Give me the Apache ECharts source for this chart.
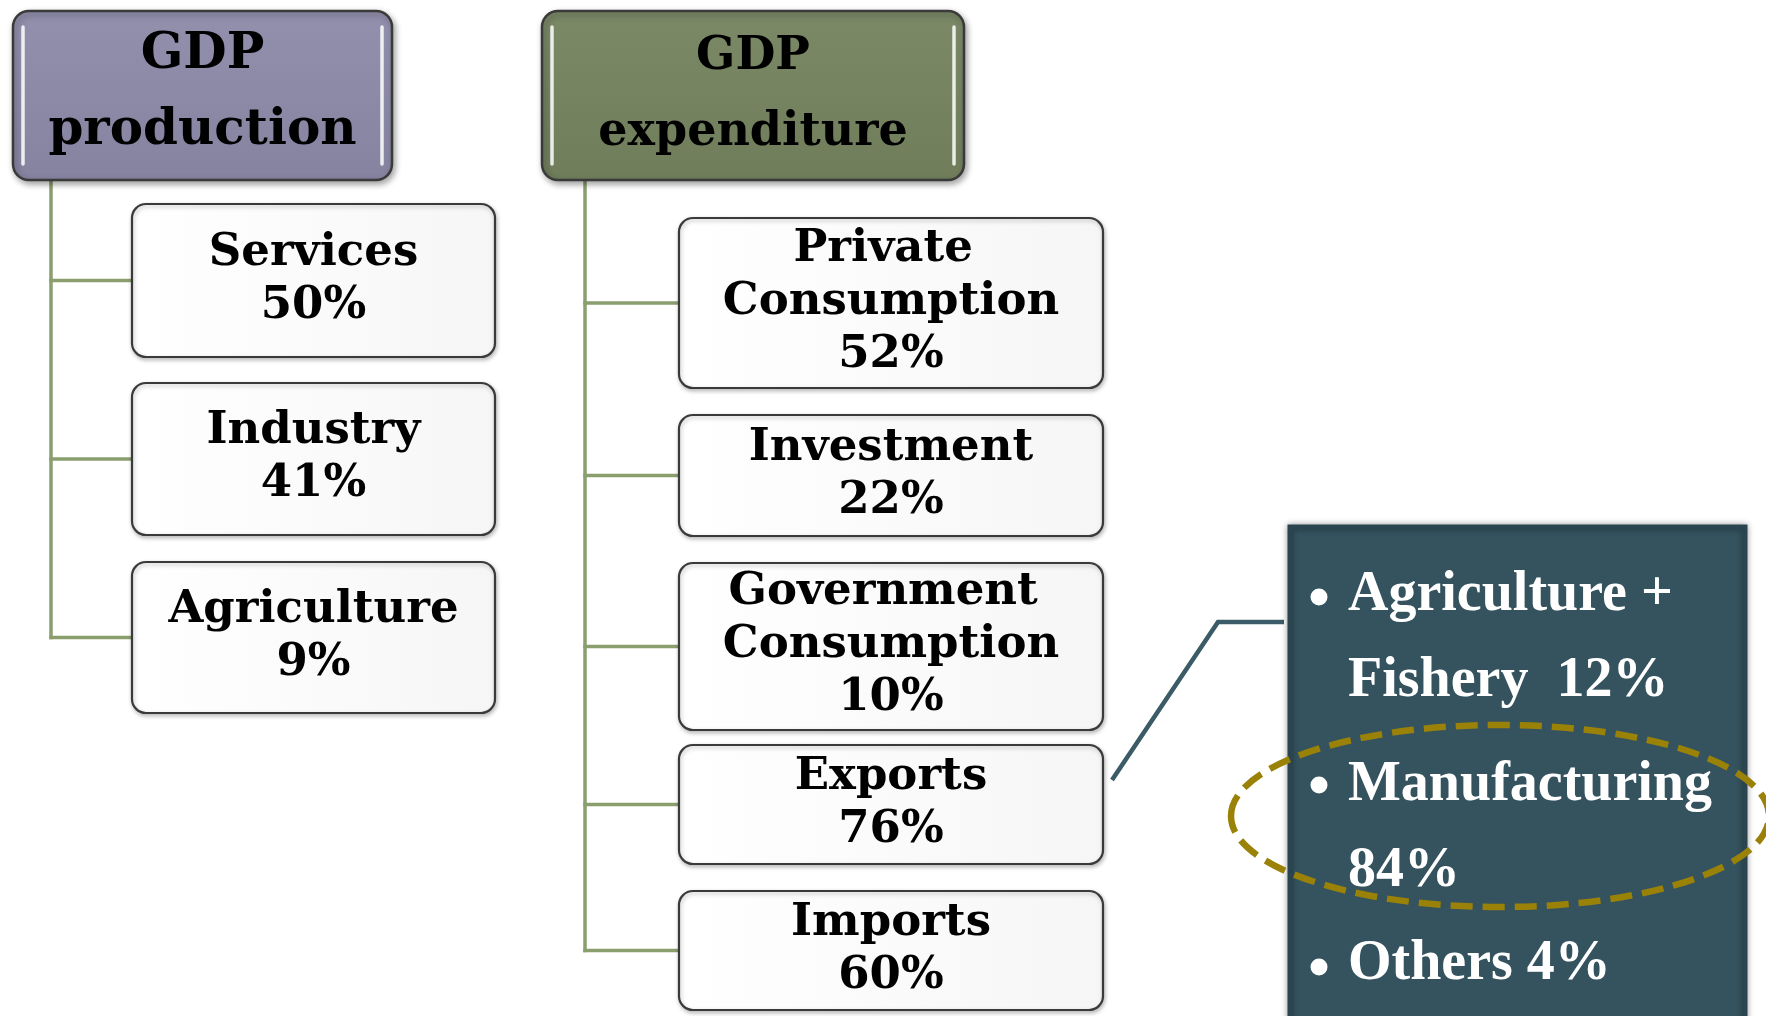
<!DOCTYPE html>
<html>
<head>
<meta charset="utf-8">
<script src="https://cdn.jsdelivr.net/npm/echarts@6/dist/echarts.min.js"></script>
<style>
  html, body { margin: 0; padding: 0; background: #ffffff; }
  #chart { width: 1766px; height: 1016px; }
</style>
</head>
<body>
<div id="chart"></div>
<script>
// Diagram data
const groupTitles = ['GDP\nproduction', 'GDP\nexpenditure'];
const productionSectors = ['Services', 'Industry', 'Agriculture'];
const productionShares = [50, 41, 9];
const expenditureItems = ['Private Consumption', 'Investment', 'Government Consumption', 'Exports', 'Imports'];
const expenditureShares = [52, 22, 10, 76, 60];
const exportSectors = ['Agriculture + Fishery', 'Manufacturing', 'Others'];
const exportShares = [12, 84, 4];
const highlightedExport = 'Manufacturing';

// Layout, in page pixels (used as axis units)
const headerBoxes = [[13, 11, 392, 180], [542, 11, 964, 180]];
const headerFills = [['#9390ae', '#8683a1'], ['#7b8967', '#6f7d5b']];
const headerFonts = ['bold 50px "DejaVu Serif"', 'bold 46px "DejaVu Serif"'];
const headerTextY = [93, 95];
const productionColumn = { trunkX: 51, x0: 132, x1: 495, rows: [[204, 357], [383, 535], [562, 713]] };
const expenditureColumn = { trunkX: 585, x0: 679, x1: 1103, rows: [[218, 388], [415, 536], [563, 730], [745, 864], [891, 1010]] };
const exportPanel = { box: [1290, 527, 1745, 1046], bulletX: 1319, bulletY: [597, 785, 967], textX: 1348, textTops: [553, 743, 922], textWidth: 400 };
const calloutPath = [[1112, 780], [1218, 622], [1284, 622]];
const highlightEllipse = { cx: 1500, cy: 816, rx: 269, ry: 91 };

const boxFont = 'bold 45px "DejaVu Serif"';
const panelFont = 'bold 56px "Liberation Serif"';
const connectorStyle = { stroke: '#8a9e6e', lineWidth: 3.5, lineCap: 'square' };

function boxRect(api, b) {
    const a = api.coord([b[0], b[1]]);
    const c = api.coord([b[2], b[3]]);
    return { x: a[0], y: a[1], width: c[0] - a[0], height: c[1] - a[1] };
}

function centeredText(text, x, y, font, lineHeight, width) {
    return {
        type: 'text',
        style: {
            text: text, x: x, y: y, font: font, fill: '#000000',
            align: 'center', verticalAlign: 'middle',
            textAlign: 'center', textVerticalAlign: 'middle',
            lineHeight: lineHeight, width: width, overflow: 'break'
        }
    };
}

// Tree connectors for a column
function renderConnectors(col, header) {
    return function (params, api) {
        const i = params.dataIndex;
        const row = col.rows[i];
        const midY = (row[0] + row[1]) / 2;
        const p0 = api.coord([col.trunkX, midY]);
        const p1 = api.coord([col.x0, midY]);
        const children = [{ type: 'line', shape: { x1: p0[0], y1: p0[1], x2: p1[0], y2: p1[1] }, style: connectorStyle }];
        if (i === col.rows.length - 1) {
            const top = api.coord([col.trunkX, header[3]]);
            children.push({ type: 'line', shape: { x1: top[0], y1: top[1], x2: p0[0], y2: p0[1] }, style: connectorStyle });
        }
        return { type: 'group', children: children };
    };
}

// Coloured header boxes
function renderHeader(params, api) {
    const i = params.dataIndex;
    const r = boxRect(api, headerBoxes[i]);
    const fill = new echarts.graphic.LinearGradient(0, 0, 0, 1, [
        { offset: 0, color: headerFills[i][0] },
        { offset: 1, color: headerFills[i][1] }
    ]);
    const gloss = { stroke: 'rgba(255,255,255,0.85)', lineWidth: 3.5, lineCap: 'round' };
    const ty = api.coord([0, headerTextY[i]])[1];
    return {
        type: 'group',
        children: [
            {
                type: 'rect',
                shape: { x: r.x, y: r.y, width: r.width, height: r.height, r: 16 },
                style: { fill: fill, stroke: '#3a3a3a', lineWidth: 2.5, shadowBlur: 6, shadowOffsetX: 2, shadowOffsetY: 3, shadowColor: 'rgba(0,0,0,0.35)' }
            },
            { type: 'line', shape: { x1: r.x + 10, y1: r.y + 16, x2: r.x + 10, y2: r.y + r.height - 16 }, style: gloss },
            { type: 'line', shape: { x1: r.x + r.width - 10, y1: r.y + 16, x2: r.x + r.width - 10, y2: r.y + r.height - 16 }, style: gloss },
            centeredText(groupTitles[i], r.x + r.width / 2, ty, headerFonts[i], 76)
        ]
    };
}

// White item boxes
function renderBoxes(col, names, shares) {
    return function (params, api) {
        const i = params.dataIndex;
        const row = col.rows[i];
        const r = boxRect(api, [col.x0, row[0], col.x1, row[1]]);
        const fill = new echarts.graphic.LinearGradient(0, 0, 1, 0, [
            { offset: 0, color: '#ffffff' },
            { offset: 1, color: '#f6f6f6' }
        ]);
        return {
            type: 'group',
            children: [
                {
                    type: 'rect',
                    shape: { x: r.x, y: r.y, width: r.width, height: r.height, r: 14 },
                    style: { fill: fill, stroke: '#3a3a3a', lineWidth: 2.2, shadowBlur: 4, shadowOffsetX: 1, shadowOffsetY: 2, shadowColor: 'rgba(0,0,0,0.25)' }
                },
                centeredText(names[i] + '\n' + shares[i] + '%', r.x + r.width / 2, r.y + r.height / 2 - 1, boxFont, 53, r.width - 30)
            ]
        };
    };
}

// Dark panel with the export breakdown
function renderPanel(params, api) {
    const r = boxRect(api, exportPanel.box);
    const pts = calloutPath.map(p => api.coord(p));
    return {
        type: 'group',
        children: [
            { type: 'polyline', shape: { points: pts }, style: { stroke: '#3b5b67', lineWidth: 4.5, fill: null } },
            {
                type: 'rect',
                shape: { x: r.x, y: r.y, width: r.width, height: r.height },
                style: { fill: '#34535e', stroke: '#2a4550', lineWidth: 5, shadowBlur: 6, shadowColor: 'rgba(0,0,0,0.35)' }
            }
        ]
    };
}

function renderExportItem(params, api) {
    const i = params.dataIndex;
    const b = api.coord([exportPanel.bulletX, exportPanel.bulletY[i]]);
    const t = api.coord([exportPanel.textX, exportPanel.textTops[i]]);
    const gap = i === 0 ? '  ' : ' ';
    return {
        type: 'group',
        children: [
            { type: 'circle', shape: { cx: b[0], cy: b[1], r: 8.5 }, style: { fill: '#ffffff' } },
            {
                type: 'text',
                style: {
                    text: exportSectors[i] + gap + exportShares[i] + '%',
                    x: t[0], y: t[1], font: panelFont, fill: '#ffffff',
                    align: 'left', verticalAlign: 'top', textAlign: 'left', textVerticalAlign: 'top',
                    lineHeight: 86, width: exportPanel.textWidth, overflow: 'break'
                }
            }
        ]
    };
}

function renderHighlight(params, api) {
    const c = api.coord([highlightEllipse.cx, highlightEllipse.cy]);
    return {
        type: 'ellipse',
        shape: { cx: c[0], cy: c[1], rx: highlightEllipse.rx, ry: highlightEllipse.ry },
        style: { fill: null, stroke: '#9a8108', lineWidth: 6.5, lineDash: [22, 10] }
    };
}

const chart = echarts.init(document.getElementById('chart'));
chart.setOption({
    animation: false,
    backgroundColor: '#ffffff',
    grid: { left: 0, right: 0, top: 0, bottom: 0 },
    xAxis: { type: 'value', min: 0, max: 1766, show: false },
    yAxis: { type: 'value', min: 0, max: 1016, inverse: true, show: false },
    series: [
        { type: 'custom', name: 'production links', renderItem: renderConnectors(productionColumn, headerBoxes[0]), data: productionShares, z: 1 },
        { type: 'custom', name: 'expenditure links', renderItem: renderConnectors(expenditureColumn, headerBoxes[1]), data: expenditureShares, z: 1 },
        { type: 'custom', name: 'headers', renderItem: renderHeader, data: groupTitles.map((t, i) => i), z: 2 },
        { type: 'custom', name: 'production', renderItem: renderBoxes(productionColumn, productionSectors, productionShares), data: productionShares, z: 2 },
        { type: 'custom', name: 'expenditure', renderItem: renderBoxes(expenditureColumn, expenditureItems, expenditureShares), data: expenditureShares, z: 2 },
        { type: 'custom', name: 'exports panel', renderItem: renderPanel, data: [0], z: 3 },
        { type: 'custom', name: 'exports', renderItem: renderExportItem, data: exportShares, z: 4 },
        { type: 'custom', name: 'highlight', renderItem: renderHighlight, data: [exportSectors.indexOf(highlightedExport)], z: 5 }
    ]
});
</script>
</body>
</html>
